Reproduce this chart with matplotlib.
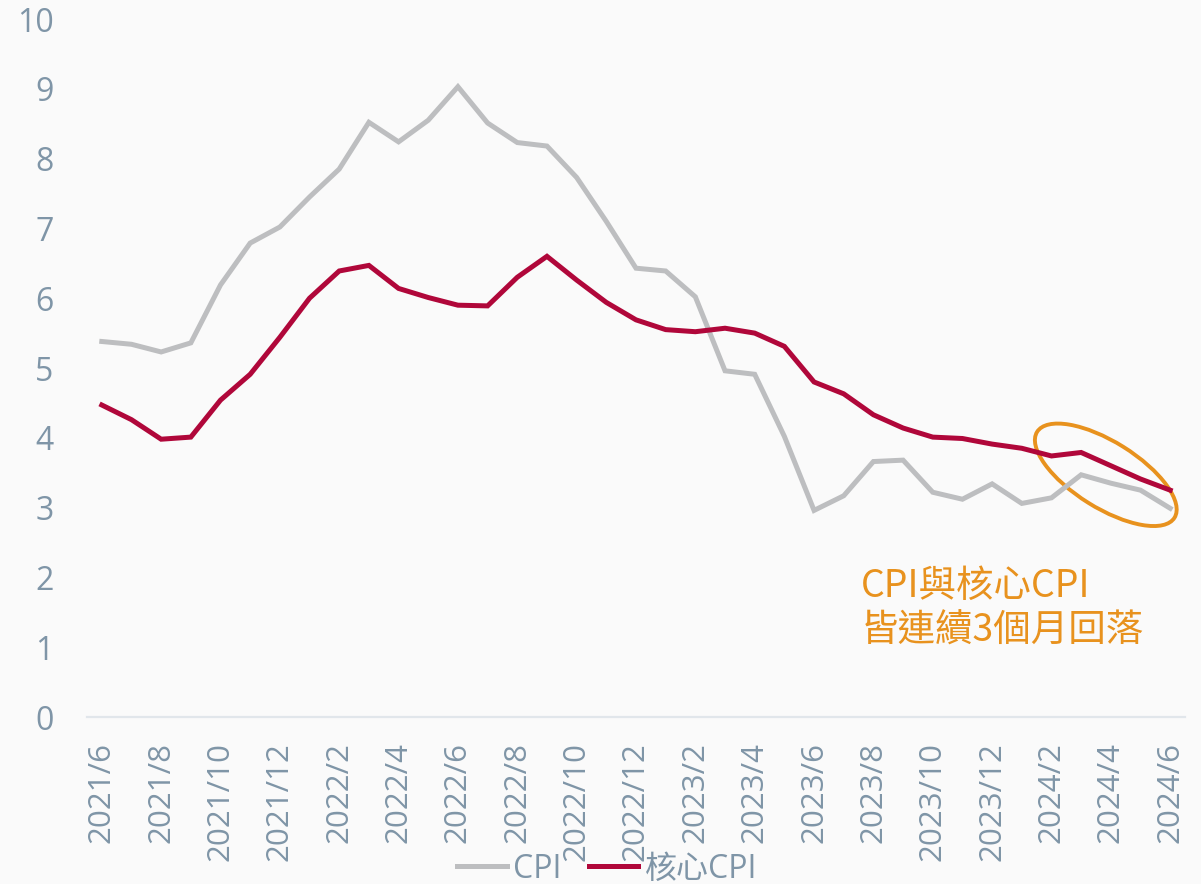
import matplotlib
matplotlib.use("Agg")
from matplotlib import pyplot as plt
from matplotlib.patches import Ellipse
import matplotlib.transforms as mtransforms
import numpy as np

# monthly data 2021/6 .. 2024/6
months = []
for y in (2021, 2022, 2023, 2024):
    for m in range(1, 13):
        if (y, m) >= (2021, 6) and (y, m) <= (2024, 6):
            months.append("%d/%d" % (y, m))

cpi = [5.38, 5.34, 5.23, 5.36, 6.19, 6.79, 7.02, 7.45, 7.85, 8.52,
       8.24, 8.55, 9.03, 8.51, 8.23, 8.18, 7.73, 7.10, 6.43, 6.39,
       6.02, 4.96, 4.91, 4.02, 2.96, 3.17, 3.66, 3.68, 3.22, 3.12,
       3.34, 3.06, 3.14, 3.47, 3.35, 3.25, 2.99]
core_cpi = [4.47, 4.26, 3.98, 4.01, 4.54, 4.91, 5.44, 6.00, 6.39, 6.47,
            6.14, 6.01, 5.90, 5.89, 6.30, 6.60, 6.26, 5.94, 5.69, 5.55,
            5.52, 5.57, 5.50, 5.31, 4.80, 4.63, 4.33, 4.14, 4.01, 3.99,
            3.91, 3.85, 3.74, 3.79, 3.60, 3.41, 3.25]

note = "CPI與核心CPI\n皆連續3個月回落"

bg = "#fafafa"
tick_col = "#7f95a7"
fonts = ["Open Sans", "Noto Sans CJK TC", "DejaVu Sans"]
plt.rcParams["font.family"] = fonts

fig = plt.figure(figsize=(12.01, 8.84), dpi=100, facecolor=bg)
ax = fig.add_axes([0.0724, 0.1889, 0.9143, 0.7896], facecolor=bg)

x = np.arange(len(months))
ax.plot(x, cpi, color="#bdbec0", lw=3.6, label="CPI", solid_joinstyle="miter")
ax.plot(x, core_cpi, color="#b0073a", lw=3.6, label="核心CPI", solid_joinstyle="miter")

ax.set_xlim(-0.5, len(months) - 0.5)
ax.set_ylim(0, 10)
ax.set_yticks(range(0, 11))
ax.set_xticks(x[::2])
ax.set_xticklabels(months[::2], rotation=90, va="top")
ax.tick_params(axis="y", length=0, pad=24, labelsize=23, labelcolor=tick_col)
ax.tick_params(axis="x", length=0, pad=18, labelsize=22.5, labelcolor=tick_col)

for s in ("top", "right", "left"):
    ax.spines[s].set_visible(False)
ax.spines["bottom"].set_color("#e1e6eb")
ax.spines["bottom"].set_linewidth(1.6)

# highlight ellipse, drawn in pixel units around a data point
trans = mtransforms.IdentityTransform() + mtransforms.ScaledTranslation(33.83, 3.47, ax.transData)
ell = Ellipse((0, 0), 162, 66, angle=-32, transform=trans, fill=False,
              edgecolor="#e8921e", lw=2.8, clip_on=False)
ax.add_artist(ell)

ax.text(25.58, 1.55, note, color="#e8921e", fontsize=27,
        family=["Noto Sans CJK TC", "DejaVu Sans"], ha="left", va="center",
        linespacing=1.2)

leg = fig.legend(loc="center", bbox_to_anchor=(607 / 1201, 1 - 869 / 884), ncol=2,
                 frameon=False, fontsize=23, handlelength=1.55, handletextpad=0.2,
                 columnspacing=0.85, borderpad=0)
for t in leg.get_texts():
    t.set_color(tick_col)

fig.savefig("out.png", dpi=100, facecolor=bg)
